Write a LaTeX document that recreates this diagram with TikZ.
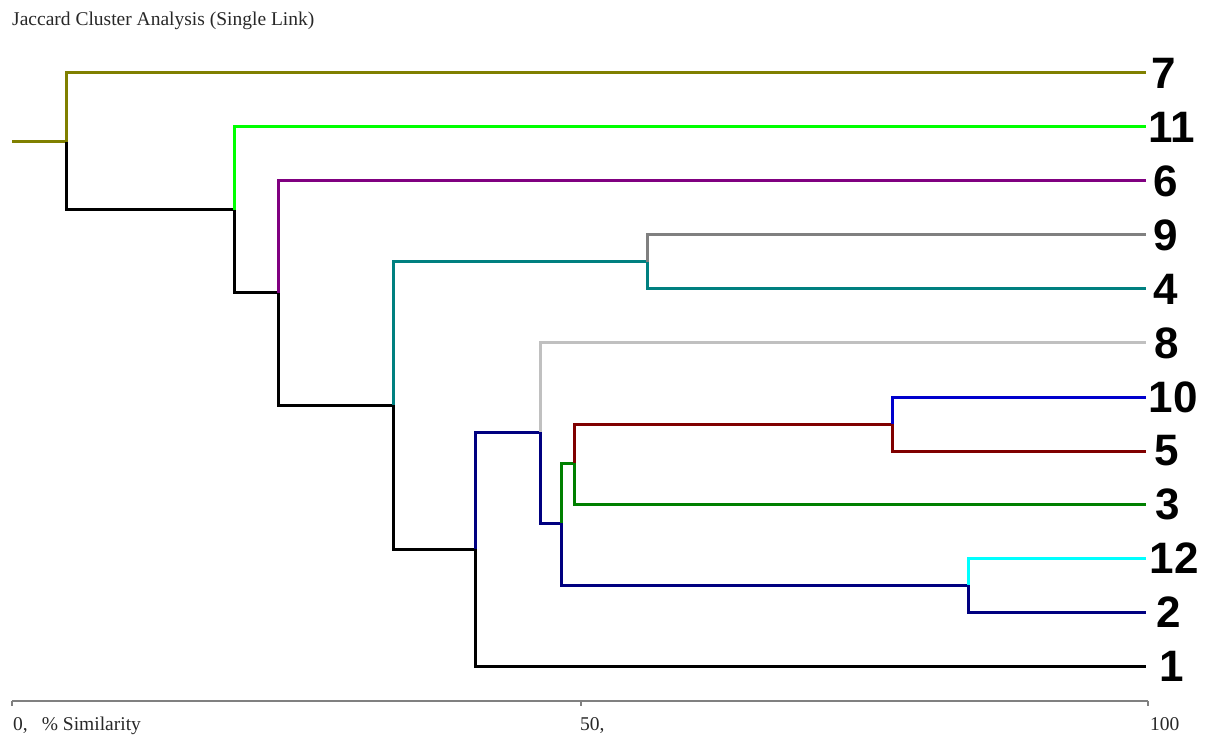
\documentclass[tikz,border=0pt]{standalone}
\usepackage{fontspec}
\setmainfont{Liberation Serif}
\newfontfamily\labfont{Liberation Sans}
\definecolor{cOlive}{RGB}{128,128,0}
\definecolor{cLime}{RGB}{0,255,0}
\definecolor{cPurple}{RGB}{128,0,128}
\definecolor{cGray}{RGB}{128,128,128}
\definecolor{cTeal}{RGB}{0,128,128}
\definecolor{cSilver}{RGB}{192,192,192}
\definecolor{cBlue}{RGB}{0,0,205}
\definecolor{cMaroon}{RGB}{128,0,0}
\definecolor{cGreen}{RGB}{0,128,0}
\definecolor{cCyan}{RGB}{0,255,255}
\definecolor{cNavy}{RGB}{0,0,128}
\definecolor{cText}{RGB}{40,40,40}
\begin{document}
\begin{tikzpicture}[x=1pt,y=-1pt,
  br/.style={line width=3pt},
  leaf/.style={font=\labfont\fontsize{44}{44}\bfseries\selectfont, anchor=center, inner sep=0pt},
  axlab/.style={font=\fontsize{19.5}{20}\selectfont, text=cText, inner sep=0pt, anchor=base west}]
\useasboundingbox (0,0) rectangle (1205,735);
\node[font=\fontsize{19.5}{20}\selectfont, text=cText, anchor=west, inner sep=0pt] (title) at (12,21) {Jaccard Cluster Analysis (Single Link)};
% leaf ends and labels
\foreach \n/\y/\lx in {7/73/1164,11/127/1172,6/181/1166,9/235/1166,4/289/1166,8/343/1167,10/397/1173,5/451/1167,3/504/1168,12/558/1174,2/612/1169,1/666/1172}{
  \coordinate (e\n) at (1146,\y);
  \node[leaf] (l\n) at (\lx,\y) {\n};
}
% junctions
\coordinate (r0) at (12,142);
\coordinate (j1) at (66,142);
\coordinate (j2) at (234,210);
\coordinate (j3) at (278,293);
\coordinate (j4) at (393,405);
\coordinate (j5) at (647,262);
\coordinate (j6) at (475,549);
\coordinate (j7) at (540,432);
\coordinate (j8) at (561,523);
\coordinate (j9) at (574,463);
\coordinate (j10) at (968,585);
\coordinate (j11) at (892,424);
\draw[br,cOlive] (r0) -- (j1);
\draw[br,cOlive] (j1) |- (e7);
\draw[br,black] (j1) |- (j2);
\draw[br,cLime] (j2) |- (e11);
\draw[br,black] (j2) |- (j3);
\draw[br,cPurple] (j3) |- (e6);
\draw[br,black] (j3) |- (j4);
\draw[br,cTeal] (j4) |- (j5);
\draw[br,black] (j4) |- (j6);
\draw[br,cGray] (j5) |- (e9);
\draw[br,cTeal] (j5) |- (e4);
\draw[br,cNavy] (j6) |- (j7);
\draw[br,black] (j6) |- (e1);
\draw[br,cSilver] (j7) |- (e8);
\draw[br,cNavy] (j7) |- (j8);
\draw[br,cGreen] (j8) |- (j9);
\draw[br,cNavy] (j8) |- (j10);
\draw[br,cMaroon] (j9) |- (j11);
\draw[br,cGreen] (j9) |- (e3);
\draw[br,cBlue] (j11) |- (e10);
\draw[br,cMaroon] (j11) |- (e5);
\draw[br,cCyan] (j10) |- (e12);
\draw[br,cNavy] (j10) |- (e2);
% axis
\coordinate (a0) at (12,701);
\coordinate (a50) at (581,701);
\coordinate (a100) at (1148,701);
\draw[cGray, line width=1.5pt] (a0) -- (a100);
\foreach \p in {a0,a50,a100}{
  \draw[cGray, line width=1.5pt] (\p) -- ([yshift=-5pt]\p);
}
\node[axlab] (t0) at (13,730) {0,\hspace{14pt}\% Similarity};
\node[axlab] (t50) at (580,730) {50,};
\node[axlab] (t100) at (1150,730) {100};
\end{tikzpicture}
\end{document}
